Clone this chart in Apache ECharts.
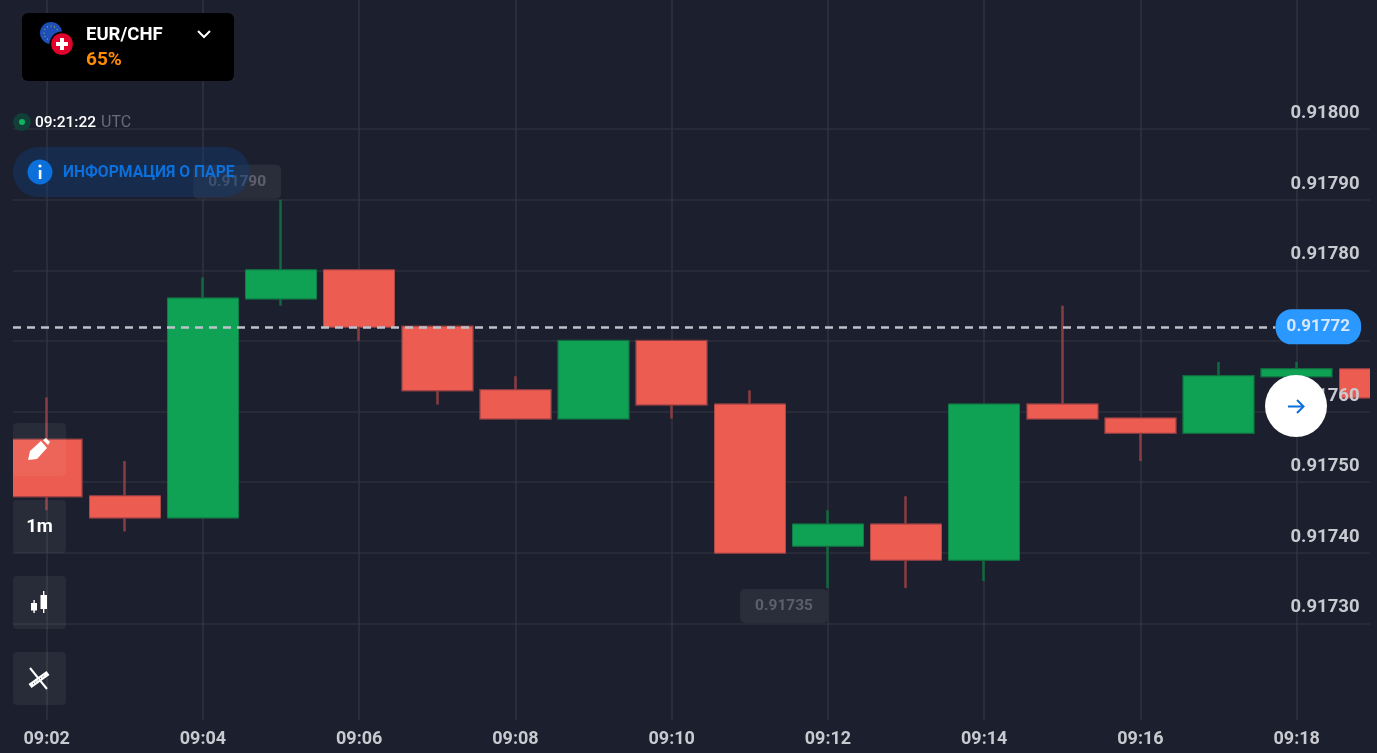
<!DOCTYPE html>
<html>
<head>
  <meta charset="utf-8">
  <title>EUR/CHF</title>
  <script src="https://cdn.jsdelivr.net/npm/echarts@6/dist/echarts.min.js"></script>
  <style>
    html, body { margin: 0; padding: 0; background: #1c1f2d; overflow: hidden; }
    #main { width: 1377px; height: 753px; }
  </style>
</head>
<body>
<div id="main"></div>
<script type="text/javascript">
// minutes after 09:00
var minutes = [2, 3, 4, 5, 6, 7, 8, 9, 10, 11, 12, 13, 14, 15, 16, 17, 18, 19];
var opens   = [0.91756, 0.91748, 0.91745, 0.91776, 0.91780, 0.91772, 0.91763, 0.91759, 0.91770, 0.91761, 0.91741, 0.91744, 0.91739, 0.91761, 0.91759, 0.91757, 0.91765, 0.91766];
var closes  = [0.91748, 0.91745, 0.91776, 0.91780, 0.91772, 0.91763, 0.91759, 0.91770, 0.91761, 0.91740, 0.91744, 0.91739, 0.91761, 0.91759, 0.91757, 0.91765, 0.91766, 0.91762];
var lows    = [0.91746, 0.91743, 0.91745, 0.91775, 0.91770, 0.91761, 0.91759, 0.91759, 0.91759, 0.91740, 0.91735, 0.91735, 0.91736, 0.91759, 0.91753, 0.91757, 0.91765, 0.91762];
var highs   = [0.91762, 0.91753, 0.91779, 0.91790, 0.91780, 0.91772, 0.91765, 0.91770, 0.91770, 0.91763, 0.91746, 0.91748, 0.91761, 0.91775, 0.91759, 0.91767, 0.91767, 0.91766];

var xTicks = [2, 4, 6, 8, 10, 12, 14, 16, 18];
var xTickLabels = ['09:02', '09:04', '09:06', '09:08', '09:10', '09:12', '09:14', '09:16', '09:18'];
var yTicks = [0.9173, 0.9174, 0.9175, 0.9176, 0.9177, 0.9178, 0.9179, 0.9180];

var currentPrice = 0.91772;
var topMark = [5, 0.91790];
var bottomMark = [12, 0.91735];

var xMin = 1.5686, xMax = 18.938;
var yMin = 0.917163, yMax = 0.918183;

var bg = '#1c1f2d';
var red = '#ec5c50', green = '#0fa254';
var redWick = '#8b3c42', greenWick = '#10693f';

var wickData = minutes.map(function (m, i) {
  return [m, opens[i], closes[i], lows[i], highs[i]];
});
// bodies only, drawn over the wicks so the wicks can stay darker
var bodyData = minutes.map(function (m, i) {
  return [m, opens[i], closes[i], Math.min(opens[i], closes[i]), Math.max(opens[i], closes[i])];
});

function markTag(mark, dy) {
  return {
    coord: mark,
    value: mark[1].toFixed(5),
    symbol: 'circle',
    symbolSize: 0,
    label: {
      show: true,
      position: 'left',
      distance: 0,
      offset: [0, dy],
      formatter: '{c}',
      color: '#5d606c',
      fontFamily: 'Roboto',
      fontWeight: 'bold',
      fontSize: 15.5,
      backgroundColor: '#2a2d3a',
      borderRadius: 5,
      padding: [9, 15]
    }
  };
}

// things around the chart: pair card, clock, info pill, tool buttons, scroll button
var toolButtons = [423, 500, 576, 652].map(function (y) {
  return { type: 'rect', z: 50, shape: { x: 13, y: y, width: 53, height: 53, r: 4 }, style: { fill: 'rgba(255,255,255,0.055)' } };
});
var euStars = [];
for (var s = 0; s < 12; s++) {
  euStars.push({
    type: 'circle', z: 51,
    shape: { cx: 51 + 7 * Math.cos(s * Math.PI / 6), cy: 33 + 7 * Math.sin(s * Math.PI / 6), r: 0.6 },
    style: { fill: '#c9b437' }
  });
}
var overlay = [
  // candlesticks are not cut at the grid edge, so cover both sides
  { type: 'rect', z: 40, shape: { x: 0, y: 0, width: 13, height: 720 }, style: { fill: bg } },
  { type: 'rect', z: 40, shape: { x: 1370, y: 0, width: 7, height: 720 }, style: { fill: bg } },

  { type: 'rect', z: 50, shape: { x: 22, y: 13, width: 212, height: 68, r: 6 }, style: { fill: '#000' } },
  { type: 'circle', z: 51, shape: { cx: 51, cy: 33, r: 11 }, style: { fill: '#1d4fb8' } },
  { type: 'circle', z: 52, shape: { cx: 62, cy: 44, r: 12.5 }, style: { fill: '#000' } },
  { type: 'circle', z: 53, shape: { cx: 62, cy: 44, r: 10.8 }, style: { fill: '#e2032c' } },
  { type: 'rect', z: 54, shape: { x: 56, y: 42, width: 12, height: 4 }, style: { fill: '#fff' } },
  { type: 'rect', z: 54, shape: { x: 60, y: 38, width: 4, height: 12 }, style: { fill: '#fff' } },
  { type: 'text', z: 51, x: 86, y: 35, style: { text: 'EUR/CHF', fill: '#fff', font: 'bold 18.5px Roboto', textVerticalAlign: 'middle' } },
  { type: 'text', z: 51, x: 86, y: 60.5, style: { text: '65%', fill: '#ff8c00', font: 'bold 19px Roboto', textVerticalAlign: 'middle' } },
  { type: 'polyline', z: 51, shape: { points: [[198, 31], [204, 37], [210, 31]] }, style: { stroke: '#fff', lineWidth: 2, fill: null } },

  { type: 'circle', z: 50, shape: { cx: 22, cy: 122, r: 9 }, style: { fill: '#123f38' } },
  { type: 'circle', z: 51, shape: { cx: 22, cy: 122, r: 3 }, style: { fill: '#0fb45f' } },
  { type: 'text', z: 51, x: 35, y: 123, style: { text: '09:21:22', fill: '#fff', font: '500 15.5px Roboto', textVerticalAlign: 'middle' } },
  { type: 'text', z: 51, x: 101, y: 123, style: { text: 'UTC', fill: '#696c77', font: '16px Roboto', textVerticalAlign: 'middle' } },

  { type: 'rect', z: 50, shape: { x: 13, y: 147, width: 237, height: 50, r: 25 }, style: { fill: 'rgba(16,60,120,0.42)' } },
  { type: 'circle', z: 51, shape: { cx: 40, cy: 172, r: 12.5 }, style: { fill: '#0b6fdc' } },
  { type: 'rect', z: 52, shape: { x: 38.8, y: 170, width: 2.6, height: 9 }, style: { fill: '#fff' } },
  { type: 'circle', z: 52, shape: { cx: 40, cy: 166, r: 1.6 }, style: { fill: '#fff' } },
  { type: 'text', z: 51, x: 63, y: 173, style: { text: 'ИНФОРМАЦИЯ О ПАРЕ', fill: '#0b6fdc', font: 'bold 15.7px Roboto', textVerticalAlign: 'middle' } },

  // pencil
  { type: 'polygon', z: 51, shape: { points: [[28, 460], [30, 451], [41, 441], [47, 448], [37, 459]] }, style: { fill: '#fff' } },
  { type: 'polygon', z: 51, shape: { points: [[43, 440], [46, 438], [50, 442], [48, 445]] }, style: { fill: '#fff' } },
  { type: 'text', z: 51, x: 39.5, y: 527, style: { text: '1m', fill: '#fff', font: 'bold 18.5px Roboto', textAlign: 'center', textVerticalAlign: 'middle' } },
  // candles icon
  { type: 'rect', z: 51, shape: { x: 31, y: 603, width: 6, height: 7.5 }, style: { fill: '#fff' } },
  { type: 'rect', z: 51, shape: { x: 33.4, y: 600, width: 1.4, height: 13 }, style: { fill: '#fff' } },
  { type: 'rect', z: 51, shape: { x: 40.5, y: 595, width: 6.5, height: 14 }, style: { fill: '#fff' } },
  { type: 'rect', z: 51, shape: { x: 43, y: 591, width: 1.4, height: 22 }, style: { fill: '#fff' } },
  // ruler and compass icon
  { type: 'line', z: 51, shape: { x1: 30, y1: 686, x2: 48, y2: 673 }, style: { stroke: '#fff', lineWidth: 5 } },
  { type: 'line', z: 51, shape: { x1: 30, y1: 668, x2: 47, y2: 689 }, style: { stroke: '#fff', lineWidth: 2 } },
  { type: 'line', z: 52, shape: { x1: 33, y1: 684, x2: 45, y2: 675 }, style: { stroke: bg, lineWidth: 1, lineDash: [1, 2] } },

  { type: 'circle', z: 50, shape: { cx: 1296, cy: 406, r: 31 }, style: { fill: '#fff' } },
  { type: 'polyline', z: 51, shape: { points: [[1288, 406.5], [1303, 406.5]] }, style: { stroke: '#0b6fdc', lineWidth: 2, fill: null } },
  { type: 'polyline', z: 51, shape: { points: [[1297, 400], [1303.5, 406.5], [1297, 413]] }, style: { stroke: '#0b6fdc', lineWidth: 2, fill: null } }
].concat(toolButtons, euStars);

var myChart = echarts.init(document.getElementById('main'), null, { renderer: 'canvas' });

var option = {
  animation: false,
  backgroundColor: bg,
  grid: { left: 13, right: 7, top: 0, bottom: 33, containLabel: false },
  xAxis: {
    type: 'value',
    min: xMin,
    max: xMax,
    axisLine: { show: false },
    axisTick: { show: false, customValues: xTicks },
    splitLine: { show: true, lineStyle: { color: '#31343f', width: 1.5 } },
    axisLabel: {
      customValues: xTicks,
      margin: 10,
      color: '#c8cad0',
      fontFamily: 'Roboto',
      fontWeight: 'bold',
      fontSize: 18,
      formatter: function (v) { return xTickLabels[xTicks.indexOf(v)]; }
    }
  },
  yAxis: [
    {
      // grid lines only
      type: 'value',
      position: 'right',
      min: yMin,
      max: yMax,
      axisLine: { show: false },
      axisTick: { show: false, customValues: yTicks },
      axisLabel: { show: false, customValues: yTicks },
      splitLine: { show: true, lineStyle: { color: '#2c2f3d', width: 1.5 } }
    },
    {
      // labels sit above the candles, so a second axis with a higher z
      type: 'value',
      position: 'right',
      z: 4,
      min: yMin,
      max: yMax,
      axisLine: { show: false },
      axisTick: { show: false },
      splitLine: { show: false },
      axisLabel: {
        customValues: yTicks,
        inside: true,
        margin: 10.5,
        align: 'right',
        verticalAlign: 'bottom',
        padding: [0, 0, 6, 0],
        color: '#c8cad0',
        fontFamily: 'Roboto',
        fontWeight: 'bold',
        fontSize: 18.5,
        formatter: function (v) { return v.toFixed(5); }
      }
    }
  ],
  series: [
    {
      name: 'wicks',
      type: 'candlestick',
      data: wickData,
      encode: { x: 0, y: [1, 2, 3, 4] },
      barWidth: 70,
      z: 2,
      itemStyle: {
        color: 'transparent',
        color0: 'transparent',
        borderColor: greenWick,
        borderColor0: redWick,
        borderWidth: 2.5
      },
      markPoint: {
        silent: true,
        data: [markTag(topMark, -18), markTag(bottomMark, 18)]
      }
    },
    {
      name: 'bodies',
      type: 'candlestick',
      data: bodyData,
      encode: { x: 0, y: [1, 2, 3, 4] },
      barWidth: 71,
      z: 3,
      itemStyle: {
        color: green,
        color0: red,
        borderColor: green,
        borderColor0: red,
        borderWidth: 0
      }
    },
    {
      // empty series, only so the price line and its pill cover the axis labels
      name: 'price',
      type: 'line',
      data: [],
      z: 6,
      markLine: {
        silent: true,
        symbol: 'none',
        animation: false,
        lineStyle: { color: '#bfc2ca', type: [8, 6], width: 2.5 },
        label: {
          show: true,
          position: 'end',
          distance: 0,
          formatter: currentPrice.toFixed(5),
          color: '#d6e9ff',
          fontFamily: 'Roboto',
          fontWeight: 'bold',
          fontSize: 17,
          backgroundColor: '#2b98ff',
          borderRadius: 16,
          padding: [9, 11]
        },
        data: [[
          { coord: [xMin, currentPrice] },
          { coord: [17.73, currentPrice] }
        ]]
      }
    }
  ],
  graphic: { elements: overlay }
};
myChart.setOption(option);
</script>
</body>
</html>
